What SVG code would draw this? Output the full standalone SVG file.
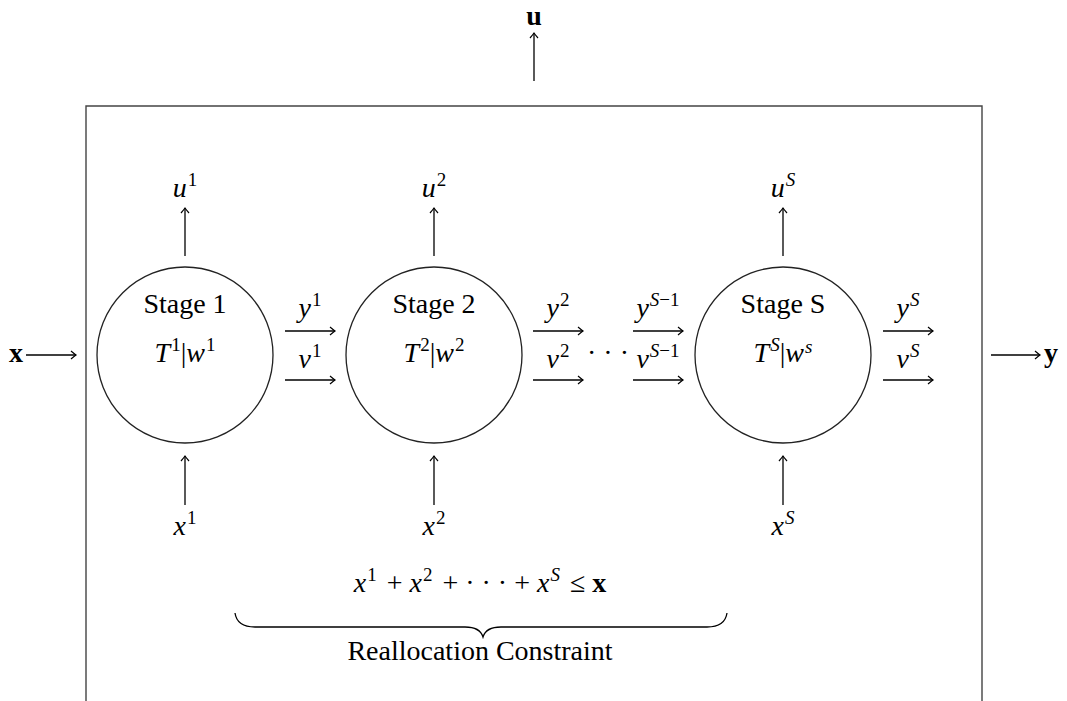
<svg xmlns="http://www.w3.org/2000/svg" width="1067" height="701" viewBox="0 0 1067 701">
<defs>
<marker id="ah" viewBox="-6 -5 8 10" markerWidth="8" markerHeight="10" refX="0" refY="0" orient="auto" markerUnits="userSpaceOnUse">
<path d="M-5,-4 Q-1.5,-1 0,0 Q-1.5,1 -5,4" fill="none" stroke="#000" stroke-width="1.2"/>
</marker>
</defs>
<style>
text{font-family:"Liberation Serif","DejaVu Serif",serif;fill:#000}
.m{font-style:italic;font-size:28px}
.s{font-size:19px;font-style:normal}
.si{font-size:19px;font-style:italic}
.r{font-size:28px}
.b{font-weight:bold;font-size:28px}
.st{fill:none;stroke:#000;stroke-width:1.3}
.c{fill:#fff;stroke:#222;stroke-width:1.3}
.box{fill:none;stroke:#444;stroke-width:1.4}
</style>
<rect width="1067" height="701" fill="#fff"/>
<g id="system">
<path class="box" d="M86,710 V106 H982 V710"/>
</g>
<g id="connectors" class="st">
<line x1="534" y1="81" x2="534" y2="33" marker-end="url(#ah)"/>
<line x1="26" y1="355" x2="76" y2="355" marker-end="url(#ah)"/>
<line x1="991" y1="355" x2="1040" y2="355" marker-end="url(#ah)"/>
<line x1="185" y1="256" x2="185" y2="208" marker-end="url(#ah)"/>
<line x1="434" y1="256" x2="434" y2="208" marker-end="url(#ah)"/>
<line x1="783" y1="256" x2="783" y2="208" marker-end="url(#ah)"/>
<line x1="185" y1="505" x2="185" y2="456" marker-end="url(#ah)"/>
<line x1="434" y1="505" x2="434" y2="456" marker-end="url(#ah)"/>
<line x1="783" y1="505" x2="783" y2="456" marker-end="url(#ah)"/>
<line x1="285" y1="331" x2="335" y2="331" marker-end="url(#ah)"/>
<line x1="285" y1="380" x2="335" y2="380" marker-end="url(#ah)"/>
<line x1="533" y1="331" x2="583" y2="331" marker-end="url(#ah)"/>
<line x1="533" y1="380" x2="583" y2="380" marker-end="url(#ah)"/>
<line x1="633" y1="331" x2="683" y2="331" marker-end="url(#ah)"/>
<line x1="633" y1="380" x2="683" y2="380" marker-end="url(#ah)"/>
<line x1="883" y1="331" x2="933" y2="331" marker-end="url(#ah)"/>
<line x1="883" y1="380" x2="933" y2="380" marker-end="url(#ah)"/>
</g>
<g id="stage1">
<circle class="c" cx="185" cy="355" r="88"/>
<text class="r" x="185" y="313" text-anchor="middle">Stage 1</text>
<text class="m" x="185" y="362" text-anchor="middle">T<tspan class="s" dx="1" dy="-11">1</tspan><tspan class="r" dy="11" style="font-style:normal">|</tspan>w<tspan class="s" dx="1" dy="-11">1</tspan></text>
</g>
<g id="stage2">
<circle class="c" cx="434" cy="355" r="88"/>
<text class="r" x="434" y="313" text-anchor="middle">Stage 2</text>
<text class="m" x="434" y="362" text-anchor="middle">T<tspan class="s" dx="1" dy="-11">2</tspan><tspan class="r" dy="11" style="font-style:normal">|</tspan>w<tspan class="s" dx="1" dy="-11">2</tspan></text>
</g>
<g id="stageS">
<circle class="c" cx="783" cy="355" r="88"/>
<text class="r" x="783" y="313" text-anchor="middle">Stage S</text>
<text class="m" x="783" y="362" text-anchor="middle">T<tspan class="si" dx="1" dy="-11">S</tspan><tspan class="r" dy="11" style="font-style:normal">|</tspan>w<tspan class="si" dx="1" dy="-9">s</tspan></text>
</g>
<g id="labels">
<text class="b" x="534" y="25" text-anchor="middle">u</text>
<text class="b" x="16" y="362" text-anchor="middle">x</text>
<text class="b" x="1051" y="362" text-anchor="middle">y</text>
<text class="m" x="185" y="197" text-anchor="middle">u<tspan class="s" dx="1" dy="-11">1</tspan></text>
<text class="m" x="434" y="197" text-anchor="middle">u<tspan class="s" dx="1" dy="-11">2</tspan></text>
<text class="m" x="783" y="197" text-anchor="middle">u<tspan class="si" dx="1" dy="-11">S</tspan></text>
<text class="m" x="185" y="535" text-anchor="middle">x<tspan class="s" dx="1" dy="-11">1</tspan></text>
<text class="m" x="434" y="535" text-anchor="middle">x<tspan class="s" dx="1" dy="-11">2</tspan></text>
<text class="m" x="783" y="535" text-anchor="middle">x<tspan class="si" dx="1" dy="-11">S</tspan></text>
<text class="m" x="310" y="317" text-anchor="middle">y<tspan class="s" dx="1" dy="-11">1</tspan></text>
<text class="m" x="310" y="368" text-anchor="middle">v<tspan class="s" dx="1" dy="-11">1</tspan></text>
<text class="m" x="558" y="317" text-anchor="middle">y<tspan class="s" dx="1" dy="-11">2</tspan></text>
<text class="m" x="558" y="368" text-anchor="middle">v<tspan class="s" dx="1" dy="-11">2</tspan></text>
<text class="m" x="658" y="317" text-anchor="middle">y<tspan class="si" dx="1" dy="-11">S</tspan><tspan class="s">−1</tspan></text>
<text class="m" x="658" y="368" text-anchor="middle">v<tspan class="si" dx="1" dy="-11">S</tspan><tspan class="s">−1</tspan></text>
<text class="m" x="908" y="317" text-anchor="middle">y<tspan class="si" dx="1" dy="-11">S</tspan></text>
<text class="m" x="908" y="368" text-anchor="middle">v<tspan class="si" dx="1" dy="-11">S</tspan></text>
<text class="r" x="608" y="362" text-anchor="middle">· · ·</text>
</g>
<g id="constraint">
<text class="m" x="480" y="592" text-anchor="middle">x<tspan class="s" dx="1" dy="-11">1</tspan><tspan class="r" dx="3" dy="11" style="font-style:normal"> + </tspan>x<tspan class="s" dx="1" dy="-11">2</tspan><tspan class="r" dx="3" dy="11" style="font-style:normal"> + · · · + </tspan>x<tspan class="si" dx="1" dy="-11">S</tspan><tspan class="r" dx="3" dy="11" style="font-style:normal"> ≤ </tspan><tspan style="font-style:normal;font-weight:bold">x</tspan></text>
<path class="st" d="M235,613 Q237,627 255,627 H465 Q480,627 483,637 Q486,627 501,627 H707 Q725,627 727,613"/>
<text class="r" x="480" y="660" text-anchor="middle">Reallocation Constraint</text>
</g>
</svg>
